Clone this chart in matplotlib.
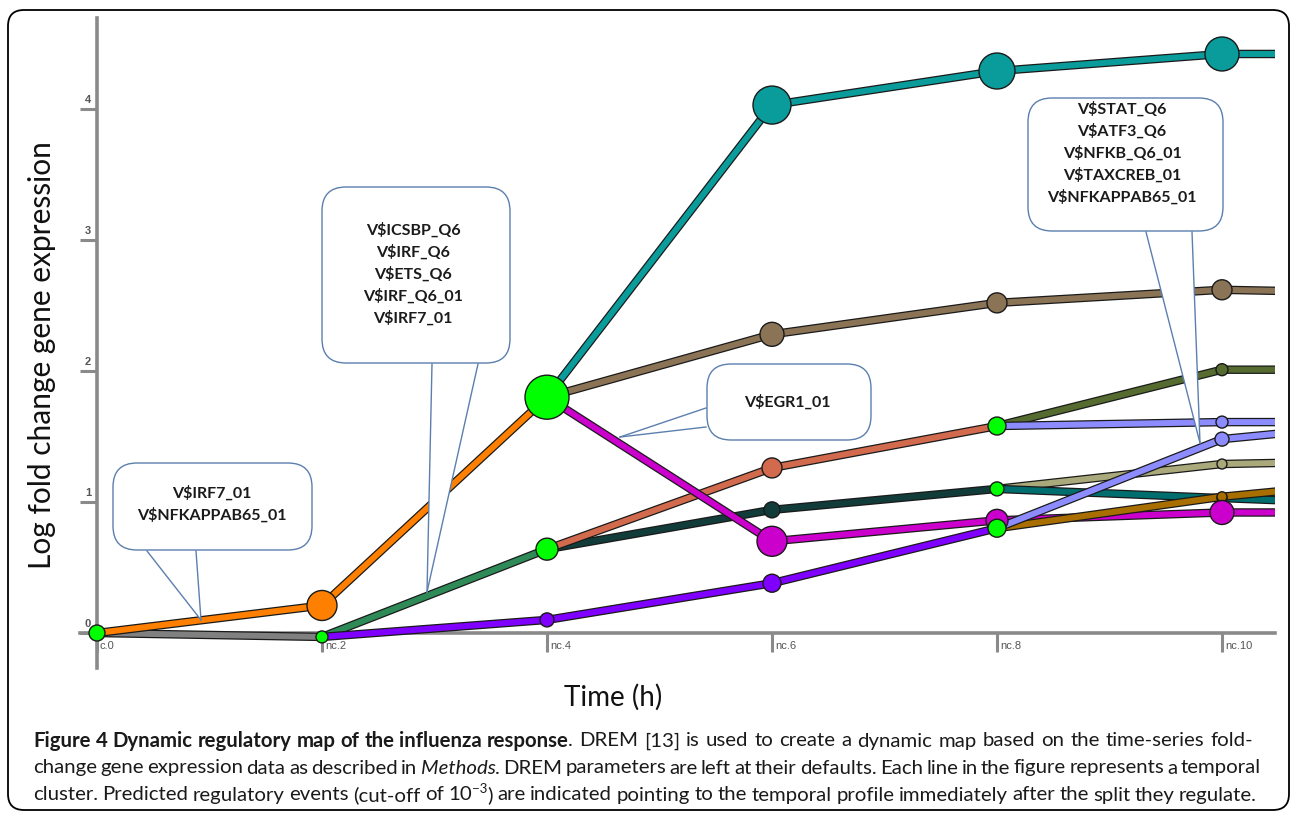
import matplotlib
matplotlib.use("Agg")
import matplotlib.pyplot as plt
import matplotlib.patheffects as pe
from matplotlib.patches import FancyBboxPatch, Polygon
from matplotlib.lines import Line2D
from matplotlib.transforms import Affine2D, offset_copy

W, H = 1295, 816

# axis ticks
tick_times = [0, 2, 4, 6, 8, 10]
tick_labels = ["c.0", "nc.2", "nc.4", "nc.6", "nc.8", "nc.10"]
y_ticks = [0, 1, 2, 3, 4]
t_edge = 10.6  # profiles run on past the last time point

# temporal clusters (time, log fold change), in drawing order
gray_t, gray_v = [0, 2], [0.0, -0.03]
orange_t, orange_v = [0, 2, 4], [0.0, 0.21, 1.80]
seagreen_t, seagreen_v = [2, 4], [-0.03, 0.64]
purple_t, purple_v = [2, 4, 6, 8], [-0.03, 0.10, 0.38, 0.80]
darkslate_t, darkslate_v = [4, 6, 8], [0.64, 0.94, 1.10]
salmon_t, salmon_v = [4, 6, 8], [0.64, 1.26, 1.58]
teal_t, teal_v = [4, 6, 8, 10, t_edge], [1.80, 4.03, 4.29, 4.42, 4.42]
brown_t, brown_v = [4, 6, 8, 10, t_edge], [1.80, 2.28, 2.52, 2.62, 2.61]
magenta_t, magenta_v = [4, 6, 8, 10, t_edge], [1.80, 0.70, 0.86, 0.92, 0.92]
khaki_t, khaki_v = [8, 10, t_edge], [1.10, 1.29, 1.30]
teal2_t, teal2_v = [8, 10, t_edge], [1.10, 1.03, 1.01]
olive_t, olive_v = [8, 10, t_edge], [1.58, 2.01, 2.01]
blue1_t, blue1_v = [8, 10, t_edge], [1.58, 1.61, 1.61]
gold_t, gold_v = [8, 10, t_edge], [0.80, 1.04, 1.09]
blue2_t, blue2_v = [8, 10, t_edge], [0.80, 1.48, 1.53]

# nodes (time, value)
node_t = [0, 2, 2, 4, 4, 4,
          6, 6, 6, 6, 6, 6,
          8, 8, 8, 8, 8, 8,
          10, 10, 10, 10, 10, 10, 10, 10, 10]
node_v = [0.0, 0.21, -0.03, 1.80, 0.64, 0.10,
          4.03, 2.28, 1.26, 0.94, 0.70, 0.38,
          4.29, 2.52, 1.58, 1.10, 0.86, 0.80,
          4.42, 2.62, 2.01, 1.61, 1.48, 1.29, 1.03, 1.04, 0.92]

# regulators predicted at each split
reg_c0 = ["V$IRF7_01", "V$NFKAPPAB65_01"]
reg_nc2 = ["V$ICSBP_Q6", "V$IRF_Q6", "V$ETS_Q6", "V$IRF_Q6_01", "V$IRF7_01"]
reg_nc4 = ["V$EGR1_01"]
reg_nc8 = ["V$STAT_Q6", "V$ATF3_Q6", "V$NFKB_Q6_01", "V$TAXCREB_01", "V$NFKAPPAB65_01"]

# ---- styles ----
teal = "#0a9b9b"
brown = "#8b7355"
magenta = "#cc00cc"
orange = "#ff8000"
gray = "#808080"
seagreen = "#2e8b57"
salmon = "#d26a4e"
olive = "#556b2f"
blue = "#8c8cff"
darkslate = "#113c3a"
khaki = "#a9a97c"
teal2 = "#006e6e"
purple = "#8000ff"
gold = "#a86e00"
lime = "#00ff00"

series = [
    (gray_t, gray_v, gray), (orange_t, orange_v, orange),
    (seagreen_t, seagreen_v, seagreen), (purple_t, purple_v, purple),
    (darkslate_t, darkslate_v, darkslate), (salmon_t, salmon_v, salmon),
    (teal_t, teal_v, teal), (brown_t, brown_v, brown),
    (magenta_t, magenta_v, magenta), (khaki_t, khaki_v, khaki),
    (teal2_t, teal2_v, teal2), (olive_t, olive_v, olive),
    (blue1_t, blue1_v, blue), (gold_t, gold_v, gold),
    (blue2_t, blue2_v, blue),
]
node_colors = [lime, orange, lime, lime, lime, purple,
               teal, brown, salmon, darkslate, magenta, purple,
               teal, brown, lime, lime, magenta, lime,
               teal, brown, olive, blue, blue, khaki, teal2, gold, magenta]
node_radius = [8, 15, 6, 22, 11, 7,
               19, 12, 10, 8, 15, 9,
               18, 10, 9, 7, 11, 9,
               17, 10, 6, 6, 7, 5, 5, 5, 12]

fig = plt.figure(figsize=(W / 100, H / 100), dpi=100)

# axes placed so that t=0 -> x=97px, t=10 -> 1222px, v=0 -> y=633px, v=4 -> 109px
px_t = 112.5
px_v = 131.0
x0_px, y0_px = 97, 633
left_px, right_px, top_px, bot_px = 80, 1275, 18, 668
ax = fig.add_axes([left_px / W, 1 - bot_px / H, (right_px - left_px) / W, (bot_px - top_px) / H])
ax.set_xlim((left_px - x0_px) / px_t, (right_px - x0_px) / px_t)
ax.set_ylim((y0_px - bot_px) / px_v, (y0_px - top_px) / px_v)
ax.patch.set_visible(False)

for side in ["top", "right"]:
    ax.spines[side].set_visible(False)
ax.spines["left"].set_position(("data", 0))
ax.spines["bottom"].set_position(("data", 0))
for side in ["left", "bottom"]:
    ax.spines[side].set_color("#8a8a8a")
    ax.spines[side].set_linewidth(2.6)
    ax.spines[side].set_zorder(1)

ax.set_xticks(tick_times)
ax.set_yticks(y_ticks)
ax.tick_params(axis="x", direction="out", length=14, width=2.2, color="#8a8a8a", labelbottom=False)
ax.tick_params(axis="y", direction="out", length=12, width=2.2, color="#8a8a8a", labelleft=False)

lab_x = offset_copy(ax.transData, fig=fig, x=3, y=-13, units="dots")
for t, lab in zip(tick_times, tick_labels):
    ax.text(t, 0, lab, transform=lab_x, fontsize=8, color="#555555",
            family="Liberation Sans", ha="left", va="center")
lab_y = offset_copy(ax.transData, fig=fig, x=-9, y=9, units="dots")
for v in y_ticks:
    ax.text(0, v, str(v), transform=lab_y, fontsize=8, color="#555555",
            family="Liberation Sans", fontweight="bold", ha="center", va="center")

# cluster profiles with a dark outline
for t, v, c in series:
    ax.plot(t, v, color=c, lw=4.3, solid_capstyle="butt", zorder=3,
            path_effects=[pe.Stroke(linewidth=6.1, foreground="#1a1a1a"), pe.Normal()])

sizes = [(2 * r * 0.72) ** 2 for r in node_radius]
ax.scatter(node_t, node_v, s=sizes, c=node_colors, edgecolors="#1a1a1a",
           linewidths=1.0, zorder=4, clip_on=False)

fig.text(42 / W, 1 - 355 / H, "Log fold change gene expression", fontsize=21.5,
         family="Lato", rotation=90, color="#111111", ha="center", va="center")
fig.text(613 / W, 1 - 697 / H, "Time (h)", fontsize=20, family="Lato",
         color="#111111", ha="center", va="center")

# ---- callouts, in image pixel coordinates ----
pix = Affine2D().scale(1, -1).translate(0, H)
box_edge = "#5b7fae"


def callout(box, lines, text_xy, base, tip, spacing=22):
    x0, y0, x1, y1 = box
    patch = FancyBboxPatch((x0, y0), x1 - x0, y1 - y0,
                           boxstyle="round,pad=0,rounding_size=24",
                           transform=pix, facecolor="white", edgecolor=box_edge,
                           lw=1.0, zorder=6)
    fig.add_artist(patch)
    (ax1, ay1), (ax2, ay2) = base
    fig.add_artist(Polygon([(ax1, ay1), (ax2, ay2), tip], closed=True, transform=pix,
                           facecolor="white", edgecolor="none", zorder=6.5))
    for a in base:
        fig.add_artist(Line2D([a[0], tip[0]], [a[1], tip[1]], transform=pix,
                              color=box_edge, lw=1.0, zorder=7))
    tx, ty = text_xy
    for i, s in enumerate(lines):
        fig.text(tx / W, 1 - (ty + i * spacing) / H, s, fontsize=11.5,
                 family="Lato", fontweight="bold", color="#1a1a1a",
                 ha="center", va="center", zorder=8)


callout((113, 463, 312, 550), reg_c0, (212, 493),
        [(147, 551), (196, 551)], (201, 620))
callout((322, 187, 510, 363), reg_nc2, (413, 230),
        [(432, 364), (478, 364)], (427, 592))
callout((707, 364, 871, 440), reg_nc4, (787, 402),
        [(706, 408), (706, 427)], (620, 437))
callout((1028, 98, 1223, 231), reg_nc8, (1122, 109),
        [(1146, 232), (1192, 232)], (1200, 443))

# outer frame
fig.add_artist(FancyBboxPatch((8, 6), 1281, 800, boxstyle="round,pad=0,rounding_size=16",
                              transform=Affine2D(), facecolor="none",
                              edgecolor="black", lw=1.3, zorder=0))

# ---- caption, justified word by word ----
cap_family = ["Lato", "DejaVu Sans"]
cap_lines = [
    [("Figure 4 Dynamic regulatory map of the influenza response", "bold"),
     (". DREM [13] is used to create a dynamic map based on the time-series fold-", "normal")],
    [("change gene expression data as described in ", "normal"), ("Methods", "italic"),
     (". DREM parameters are left at their defaults. Each line in the figure represents a temporal", "normal")],
    [("cluster. Predicted regulatory events (cut-off of 10", "normal"), ("\u22123", "sup"),
     (") are indicated pointing to the temporal profile immediately after the split they regulate.", "normal")],
]
cap_y = [741, 768, 795]
cap_right = [1262, 1262, 1257]
cap_left = 33

renderer = fig.canvas.get_renderer()


def style_props(style, size):
    p = dict(family=cap_family, fontsize=size, color="#1a1a1a")
    if style == "bold":
        p["fontweight"] = "bold"
    elif style == "italic":
        p["fontstyle"] = "italic"
    elif style == "sup":
        p["fontsize"] = size * 0.65
    return p


def measure(s, style, size):
    t = fig.text(0, 0, s, **style_props(style, size))
    w = t.get_window_extent(renderer).width
    t.remove()
    return w


def split_words(runs):
    words = [[]]
    for text, style in runs:
        parts = text.split(" ")
        for i, p in enumerate(parts):
            if i > 0:
                words.append([])
            if p:
                words[-1].append((p, style))
    return [w for w in words if w]


# pick the font size so the first caption line fits with ordinary spacing
ref = 10.0
line0 = "".join(t for t, _ in cap_lines[0])
w_ref = measure(line0, "normal", ref) + 0.05 * measure(line0[:57], "normal", ref)
cap_size = ref * (cap_right[0] - cap_left) / w_ref

for runs, y, xr in zip(cap_lines, cap_y, cap_right):
    words = split_words(runs)
    widths = [[measure(s, st, cap_size) for s, st in w] for w in words]
    total = sum(sum(ws) for ws in widths)
    gap = (xr - cap_left - total) / (len(words) - 1)
    x = cap_left
    for w, ws in zip(words, widths):
        for (s, st), sw in zip(w, ws):
            yy = y - 6 if st == "sup" else y
            fig.text(x / W, 1 - yy / H, s, va="center", ha="left", **style_props(st, cap_size))
            x += sw - (1.0 if st in ("bold", "italic") else 0)
        x += gap

fig.savefig("out.png", dpi=100)
